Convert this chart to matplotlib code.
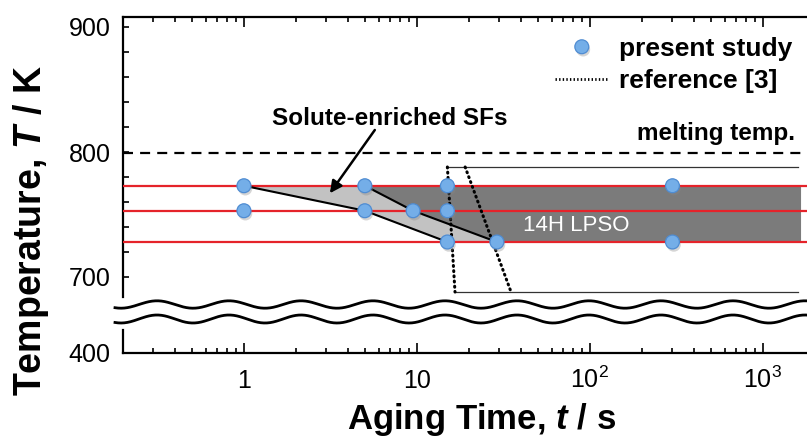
import numpy as np
import matplotlib
matplotlib.use("Agg")
import matplotlib.pyplot as plt
import matplotlib.patheffects as pe
from matplotlib.lines import Line2D
from matplotlib.ticker import FixedLocator, MultipleLocator, LogLocator, NullFormatter

plt.rcParams['font.family'] = ['Liberation Sans', 'DejaVu Sans']
plt.rcParams['mathtext.fontset'] = 'custom'
plt.rcParams['mathtext.rm'] = 'Liberation Sans'
plt.rcParams['mathtext.it'] = 'Liberation Sans:italic:bold'
plt.rcParams['mathtext.bf'] = 'Liberation Sans:bold'

# aging experiments (time in s, temperature in K)
aging_time = [1, 1, 5, 5, 9.5, 15, 15, 15, 29, 300, 300]
aging_temp = [773, 753, 773, 753, 753, 773, 753, 728, 728, 773, 728]
aging_levels = [773, 753, 728]
melting_temp = 799

# start of solute-enriched stacking faults and of 14H LPSO at each level
sf_start_time = [1, 5, 15]
lpso_start_time = [5, 9.5, 29]
lpso_end_time = 1650

# reference [3] transformation window
ref_temp = [788, 688]
ref_start_time = [15, 16.6]
ref_end_time = [19, 35]
ref_right_time = 1600

x_ticks = [1, 10, 100, 1000]
x_tick_labels = ['1', '10', r'$\mathdefault{10^{2}}$', r'$\mathdefault{10^{3}}$']
y_ticks_upper = [700, 800, 900]
y_ticks_lower = [400]

W, H = 807, 437
fig = plt.figure(figsize=(W / 100, H / 100), dpi=100)


def px_rect(x0, y0, x1, y1):
    return [x0 / W, 1 - y1 / H, (x1 - x0) / W, (y1 - y0) / H]


ax = fig.add_axes(px_rect(123, 17, 815, 297))
axb = fig.add_axes(px_rect(123, 330, 815, 353))

for a in (ax, axb):
    a.set_xscale('log')
    a.set_xlim(0.2, 2000)
    for s in a.spines.values():
        s.set_linewidth(1.6)
    a.xaxis.set_minor_locator(LogLocator(base=10, subs=np.arange(2, 10)))
    a.xaxis.set_minor_formatter(NullFormatter())
    a.tick_params(axis='both', which='both', direction='in', labelsize=18, width=1.2)
    a.tick_params(axis='x', which='major', length=7.5)
    a.tick_params(axis='x', which='minor', length=3.8)
    a.tick_params(axis='y', which='both', length=4.5, pad=9)

# upper panel
ax.set_ylim(684, 908)
ax.spines['bottom'].set_visible(False)
ax.yaxis.set_major_locator(FixedLocator(y_ticks_upper))
ax.yaxis.set_minor_locator(MultipleLocator(20))
ax.tick_params(axis='x', which='both', top=True, bottom=False, labelbottom=False)
ax.tick_params(axis='y', which='both', right=False)

# lower panel
axb.set_ylim(400, 418.4)
axb.spines['top'].set_visible(False)
axb.set_yticks(y_ticks_lower)
axb.tick_params(axis='y', which='both', right=False)
axb.tick_params(axis='x', which='both', top=False, bottom=True)
axb.set_xticks(x_ticks, x_tick_labels)
axb.tick_params(axis='x', which='major', pad=25)
for t in axb.xaxis.get_major_ticks():
    t.label1.set_verticalalignment('baseline')

# shaded regions
ax.fill_betweenx(aging_levels, sf_start_time, lpso_start_time,
                 color='#c2c2c2', lw=0, zorder=1)
ax.fill_betweenx(aging_levels, lpso_start_time, lpso_end_time,
                 color='#7b7b7b', lw=0, zorder=1)
ax.text(83, 741, '14H LPSO', color='white', ha='center', va='center', fontsize=16, zorder=4)

# aging temperatures and melting temperature
for T in aging_levels:
    ax.axhline(T, color='#e5232a', lw=1.6, zorder=3)
ax.axhline(melting_temp, color='black', lw=1.6, ls=(0, (4.5, 3.2)), zorder=3)
ax.text(1531, 815, 'melting temp.', ha='right', va='center',
        fontsize=17.5, fontweight='bold')

# region boundaries
ax.plot(sf_start_time, aging_levels, color='black', lw=1.5, zorder=4)
ax.plot(lpso_start_time, aging_levels, color='black', lw=1.5, zorder=4)

# reference [3]
dot_style = dict(color='black', lw=2.2, ls=(0, (0.3, 1.4)), dash_capstyle='round', zorder=5)
ax.plot(ref_start_time, ref_temp, **dot_style)
ax.plot(ref_end_time, ref_temp, **dot_style)
ax.plot([ref_start_time[0], ref_right_time], [ref_temp[0]] * 2, color='#333333', lw=0.9, zorder=2)
ax.plot([ref_start_time[1], ref_right_time], [ref_temp[1]] * 2, color='#333333', lw=0.9, zorder=2)

# measurements
shadow = [pe.SimplePatchShadow(offset=(1, -2), shadow_rgbFace='#888888', alpha=0.35), pe.Normal()]
marker_style = dict(ls='none', marker='o', ms=10, mfc='#74aee8', mec='#4f8cd2', mew=0.9)
ax.plot(aging_time, aging_temp, zorder=6, path_effects=shadow, **marker_style)

# annotation
ax.text(7.0, 827, 'Solute-enriched SFs', ha='center', va='center',
        fontsize=17.5, fontweight='bold')
ax.annotate('', xy=(3.14, 767), xytext=(5.71, 817.6),
            arrowprops=dict(arrowstyle='-|>', color='black', lw=1.8,
                            mutation_scale=18, shrinkA=0, shrinkB=0))

# legend
handles = [Line2D([], [], path_effects=shadow, **marker_style),
           Line2D([], [], color='black', lw=2.0, ls=(0, (0.5, 0.8)))]
ax.legend(handles, ['present study', 'reference [3]'], loc='upper right',
          bbox_to_anchor=(792 / W, 1 - 37 / H), bbox_transform=fig.transFigure,
          frameon=False, prop=dict(weight='bold', size=19), handlelength=2.0,
          handletextpad=0.4, labelspacing=0.3, borderpad=0, borderaxespad=0)

# axis break
xs = np.linspace(115, 812, 900)
wave = np.cos(2 * np.pi * (xs - 157) / 72)
for yc, amp in ((304.5, 3.7), (319.0, 4.0)):
    ys = yc - amp * wave
    fig.add_artist(Line2D(xs / W, 1 - ys / H, transform=fig.transFigure,
                          color='black', lw=2.0))

# axis titles
fig.text(31 / W, 1 - 231 / H, 'Temperature, $T$ / K', rotation=90, ha='center', va='center',
         fontsize=27, fontweight='bold')
fig.text(482 / W, 1 - 429 / H, 'Aging Time, $t$ / s', ha='center', va='baseline',
         fontsize=25, fontweight='bold')

fig.savefig('out.png', dpi=100)
